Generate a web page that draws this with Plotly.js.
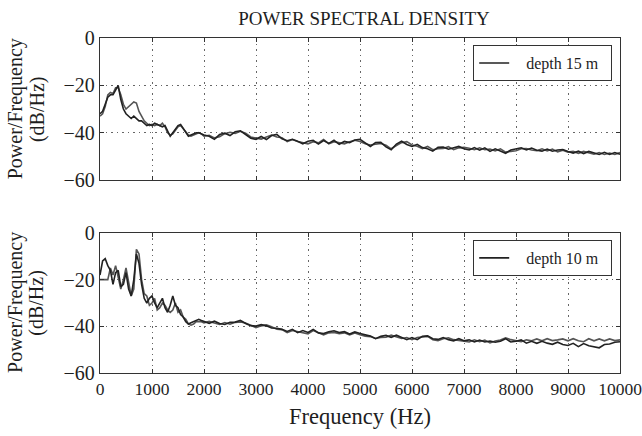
<!DOCTYPE html>
<html>
<head>
<meta charset="utf-8">
<script src="https://cdn.plot.ly/plotly-3.0.1.min.js"></script>
<style>html,body{margin:0;padding:0;background:#fff;}#chart{width:642px;height:436px;}</style>
</head>
<body>
<div id="chart"></div>
<script>
// Frequency grid (Hz)
const freqLow = [0,50,100,150,200,250,300,350,400,450,500,550,600,650,700,750,800,850,900,950,
  1000,1050,1100,1150,1200,1250,1300,1350,1400,1450,1500,1550,1600,1650,1700,1750,1800,1850,1900,1950,2000];
const freqHigh = [2100,2200,2300,2400,2500,2600,2700,2800,2900,3000,
  3100,3200,3300,3400,3500,3600,3700,3800,3900,4000,
  4100,4200,4300,4400,4500,4600,4700,4800,4900,5000,
  5100,5200,5300,5400,5500,5600,5700,5800,5900,6000,
  6100,6200,6300,6400,6500,6600,6700,6800,6900,7000,
  7100,7200,7300,7400,7500,7600,7700,7800,7900,8000,
  8100,8200,8300,8400,8500,8600,8700,8800,8900,9000,
  9100,9200,9300,9400,9500,9600,9700,9800,9900,10000];

// depth 15 m (top panel), two recordings (dB/Hz)
const d15aLow = [-32,-31,-28,-25,-24,-24,-22,-20,-26,-30,
  -32,-33,-34,-33,-34,-35,-35,-36,-37,-36.5,
  -37,-36,-36.5,-37,-37.5,-37,-39,-41.5,-40,-38.5,
  -37,-36.5,-38,-39.5,-41.5,-41,-40.5,-40,-40,-40.5,-41];
const d15bLow = [-33,-32,-29,-24,-23,-23.5,-21,-21,-24,-28,
  -30,-29,-28,-27,-27.5,-31,-33,-35,-36,-37,
  -36.5,-37,-36.5,-37,-36,-37.5,-40,-41,-40.5,-39,
  -37.5,-37,-38.5,-39.5,-41,-41.5,-41,-40.5,-40,-40.5,-41.5];
const d15aHigh = [-41.5,-42.8,-40.8,-40.2,-41.2,-39.6,-39.2,-40.8,-42.3,-42.8,
  -41.6,-42.9,-41.2,-40.7,-42.6,-43.4,-42.8,-43.6,-44.7,-43.6,
  -43.2,-44.8,-43.3,-44.5,-43.2,-44.9,-43.7,-44.2,-43.1,-42.8,
  -44.3,-45.8,-44.2,-44.1,-46,-47.2,-44.8,-43.6,-45,-45.8,
  -44.9,-46.3,-46.8,-47.8,-46.2,-46.1,-47,-46.3,-45.8,-46.8,
  -47.3,-46.3,-47.4,-46.4,-47.9,-46.8,-47.8,-48.7,-47.3,-46.8,
  -46.4,-47.3,-46.5,-47.4,-47.8,-46.9,-47.8,-47.3,-47.1,-47.9,
  -48.6,-47.8,-48.8,-47.9,-48.7,-49.2,-48.3,-49.2,-48.4,-49.1];
const d15bHigh = [-41.1,-42.2,-41.7,-40.4,-39.8,-40.3,-39.4,-40.2,-41.8,-42.1,
  -42.7,-41.8,-41,-41.8,-42.1,-43.8,-42.9,-43.7,-44.2,-44.7,
  -43.8,-44.3,-42.9,-44.7,-43.8,-44.2,-44.7,-43.8,-43.2,-43.7,
  -44.7,-45.2,-44.8,-44.6,-45.3,-46.8,-45.4,-44.2,-43.8,-45.2,
  -45.7,-46.7,-45.8,-47.2,-46.8,-46.7,-45.9,-47.2,-46.4,-46.2,
  -46.6,-47.2,-46.4,-47.2,-46.9,-47.7,-46.8,-48.2,-47.9,-47.6,
  -46.8,-46.7,-47.3,-47.6,-46.8,-47.7,-46.9,-48.1,-47.4,-48.2,
  -47.9,-48.7,-47.9,-48.6,-49.1,-48.4,-49.2,-48.6,-49.2,-48.4];

// depth 10 m (bottom panel), two recordings (dB/Hz)
const d10aLow = [-18,-12,-11,-14,-16,-22,-17,-16,-23,-22,
  -17,-24,-27,-20,-9,-13,-22,-28,-30,-28,
  -27,-30,-32,-30,-28,-32,-34,-31,-27,-31,
  -32,-35,-36,-38,-39,-38.5,-38,-37.5,-37,-37.5,-38];
const d10bLow = [-20,-20,-20,-20,-15,-18,-14,-19,-24,-20,
  -15,-21,-27,-24,-7,-9,-20,-26,-27,-31,
  -30,-28,-33,-32,-30,-31,-33,-34,-33,-30,
  -34,-33,-36,-37,-39,-39.5,-39,-38,-38,-38,-38.5];
const d10aHigh = [-38.7,-37.8,-38.8,-39.2,-38.3,-38.2,-37.4,-38.8,-39.7,-39.9,
  -39.3,-39.8,-40.7,-40.8,-41.3,-42.2,-41.3,-42.7,-41.8,-42.6,
  -41.3,-42.8,-43.1,-42.3,-41.9,-42.7,-42.3,-43.3,-42.4,-43.1,
  -43.7,-44.2,-45.3,-44.3,-43.9,-44.7,-43.8,-44.7,-45.7,-44.8,
  -45.7,-44.3,-44.1,-45.3,-45.6,-44.8,-45.7,-46.2,-45.3,-46.2,
  -45.8,-46.7,-45.9,-46.7,-46.3,-46.8,-46.4,-45.3,-46.7,-46.4,
  -45.8,-47.2,-46.4,-47.3,-46.4,-47.2,-47.7,-46.8,-47.8,-48.2,
  -47.3,-48.7,-47.4,-48.3,-48.6,-49.2,-47.8,-47.6,-46.8,-46.6];
const d10bHigh = [-37.9,-38.6,-39.2,-38.4,-39.1,-38.3,-38.1,-38.6,-39.7,-40.6,
  -39.8,-39.4,-40.2,-41.2,-41.4,-42.7,-41.8,-42.2,-42.6,-43.2,
  -41.8,-42.6,-43.7,-42.8,-42.6,-43.2,-42.8,-43.7,-42.9,-43.6,
  -44.2,-44.4,-45.2,-44.8,-44.7,-43.8,-44.6,-45.2,-44.8,-45.7,
  -44.8,-44.6,-44.3,-45.7,-46.1,-45.3,-44.9,-45.7,-46.2,-46.4,
  -46.7,-45.8,-46.6,-45.9,-47.1,-46.3,-45.9,-44.9,-45.7,-46.2,
  -46.6,-45.8,-46.2,-45.4,-46.2,-45.3,-46.1,-45.8,-45.4,-46.2,
  -45.3,-46.2,-46.6,-45.3,-46.2,-45.4,-46.2,-45.4,-46.1,-45.8];

const xTicks = [0,1000,2000,3000,4000,5000,6000,7000,8000,9000,10000];
const yTicks = [-60,-40,-20,0];
const legendNames = ['depth 15 m', 'depth 10 m'];
const yTitleLines = ['Power/Frequency', '(dB/Hz)'];

const freq = freqLow.concat(freqHigh);
const serif = '"Liberation Serif", "Times New Roman", serif';
const ink = '#1e1e1e';
const yTickText = yTicks.map(v => String(v).replace('-', '\u2212'));
const legendLabel = s => '\u00a0\u00a0\u00a0' + s + '\u00a0\u00a0';

const traces = [
  {x: freq, y: d15bLow.concat(d15bHigh), xaxis:'x2', yaxis:'y2', mode:'lines', line:{color:'#555', width:1.6}, showlegend:false, hoverinfo:'skip'},
  {x: freq, y: d15aLow.concat(d15aHigh), xaxis:'x2', yaxis:'y2', mode:'lines', line:{color:'#222', width:1.6}, name:legendLabel(legendNames[0]), legend:'legend'},
  {x: freq, y: d10bLow.concat(d10bHigh), xaxis:'x', yaxis:'y', mode:'lines', line:{color:'#555', width:1.6}, showlegend:false, hoverinfo:'skip'},
  {x: freq, y: d10aLow.concat(d10aHigh), xaxis:'x', yaxis:'y', mode:'lines', line:{color:'#222', width:1.6}, name:legendLabel(legendNames[1]), legend:'legend2'}
];

const axBase = {
  showline:true, linecolor:'#333', linewidth:1.2, mirror:'ticks',
  ticks:'inside', ticklen:4, tickcolor:'#333',
  showgrid:true, gridcolor:'#666', gridwidth:1, griddash:'1.5px,4px',
  zeroline:false, tickfont:{family:serif, size:20, color:ink}, ticklabeloverflow:'allow'
};

function yTitleAnn(text, xPaper, yPaper) {
  return {text:text, xref:'paper', yref:'paper', x:xPaper, y:yPaper, xanchor:'center', yanchor:'middle',
    textangle:-90, showarrow:false, font:{family:serif, size:20, color:ink}};
}

const layout = {
  width:642, height:436,
  margin:{l:100, r:22, t:38, b:63},
  paper_bgcolor:'#fff', plot_bgcolor:'#fff',
  font:{family:serif, color:ink},
  title:{text:'POWER SPECTRAL DENSITY', font:{family:serif, size:19, color:ink}, x:0.567, xanchor:'center', y:0.959, yanchor:'middle'},
  xaxis: Object.assign({}, axBase, {anchor:'y', range:[0,10000], tickvals:xTicks, ticktext:xTicks.map(String),
    tickfont:{family:serif, size:17.5, color:ink},
    title:{text:'Frequency (Hz)', font:{family:serif, size:22.5, color:ink}, standoff:10}}),
  yaxis: Object.assign({}, axBase, {anchor:'x', domain:[0,0.418], range:[-60,0], tickvals:yTicks, ticktext:yTickText}),
  xaxis2: Object.assign({}, axBase, {anchor:'y2', range:[0,10000], tickvals:xTicks, showticklabels:false}),
  yaxis2: Object.assign({}, axBase, {anchor:'x2', domain:[0.576,1], range:[-60,0], tickvals:yTicks, ticktext:yTickText}),
  annotations:[
    yTitleAnn(yTitleLines[0], -0.163, 0.788),
    yTitleAnn(yTitleLines[1], -0.121, 0.788),
    yTitleAnn(yTitleLines[0], -0.163, 0.21),
    yTitleAnn(yTitleLines[1], -0.121, 0.21)
  ],
  legend:{x:0.985, xanchor:'right', y:0.979, yanchor:'top', bgcolor:'#fff', bordercolor:'#333', borderwidth:1, font:{family:serif, size:16, color:ink}, itemwidth:30, tracegroupgap:0},
  legend2:{x:0.985, xanchor:'right', y:0.397, yanchor:'top', bgcolor:'#fff', bordercolor:'#333', borderwidth:1, font:{family:serif, size:16, color:ink}, itemwidth:30, tracegroupgap:0},
  showlegend:true
};

Plotly.newPlot('chart', traces, layout, {displayModeBar:false, staticPlot:true});
</script>
</body>
</html>
